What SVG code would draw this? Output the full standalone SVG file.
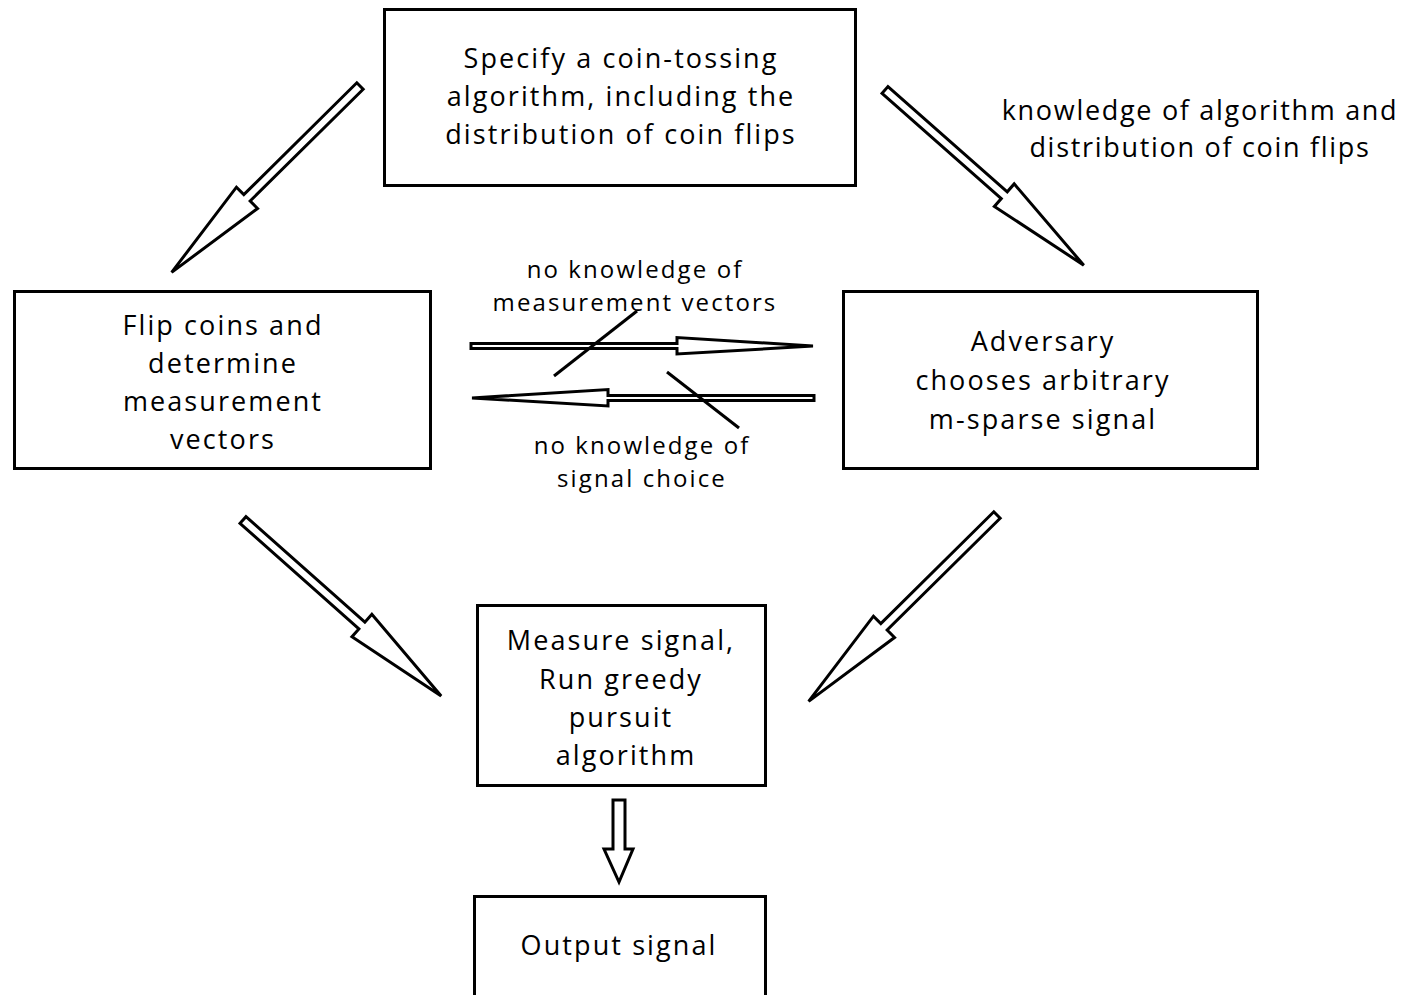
<svg xmlns="http://www.w3.org/2000/svg" width="1405" height="995" viewBox="0 0 1405 995">
<defs>
<style>
.box{fill:#fff;stroke:#000;stroke-width:3}
.t{font-family:"Open Sans",Lato,"Liberation Sans",sans-serif;font-size:27px;letter-spacing:2.1px;fill:#000;text-anchor:middle}
.s{font-family:"Open Sans",Lato,"Liberation Sans",sans-serif;font-size:24px;letter-spacing:2.1px;fill:#000;text-anchor:middle}
.k{font-family:"Open Sans",Lato,"Liberation Sans",sans-serif;font-size:27px;letter-spacing:1.7px;fill:#000;text-anchor:middle}
.ar{fill:#fff;stroke:#000;stroke-width:3;stroke-linejoin:miter}
.ln{stroke:#000;stroke-width:3;fill:none}
</style>
<path id="darrow" d="M0,-4.5 L159,-4.5 L159,-15 L265,0 L159,15 L159,4.5 L0,4.5 Z"/>
</defs>
<rect width="1405" height="995" fill="#fff"/>
<g id="connectors">
<use href="#darrow" class="ar" transform="translate(360,86) rotate(135.3)"/>
<use href="#darrow" class="ar" transform="translate(885,90) rotate(41.4)"/>
<use href="#darrow" class="ar" transform="translate(243,520) rotate(41.6)"/>
<use href="#darrow" class="ar" transform="translate(997,515) rotate(135.3)"/>
<path class="ar" stroke-width="2.5" d="M471,343.5 L677,343.5 L677,337.5 L813,346 L677,354 L677,348.5 L471,348.5 Z"/>
<path class="ar" stroke-width="2.5" d="M814,395.5 L608,395.5 L608,389.5 L472,398 L608,406 L608,400.5 L814,400.5 Z"/>
<line class="ln" x1="554" y1="376" x2="637" y2="311"/>
<line class="ln" x1="667" y1="372" x2="739" y2="428"/>
<path class="ar" d="M613,800 L625,800 L625,849 L633,849 L619,882 L604,849 L613,849 Z"/>
</g>
<g id="node-top">
<rect class="box" x="384.5" y="9.5" width="471" height="176"/>
<text class="t" x="621" y="68">Specify a coin-tossing</text>
<text class="t" x="621" y="106">algorithm, including the</text>
<text class="t" x="621" y="144">distribution of coin flips</text>
</g>
<g id="node-left">
<rect class="box" x="14.5" y="291.5" width="416" height="177"/>
<text class="t" x="223" y="335">Flip coins and</text>
<text class="t" x="223" y="373">determine</text>
<text class="t" x="223" y="411">measurement</text>
<text class="t" x="223" y="449">vectors</text>
</g>
<g id="node-right">
<rect class="box" x="843.5" y="291.5" width="414" height="177"/>
<text class="t" x="1043" y="351">Adversary</text>
<text class="t" x="1043" y="390">chooses arbitrary</text>
<text class="t" x="1043" y="429">m-sparse signal</text>
</g>
<g id="node-middle">
<rect class="box" x="477.5" y="605.5" width="288" height="180"/>
<text class="t" x="621" y="650">Measure signal,</text>
<text class="t" x="621" y="689">Run greedy</text>
<text class="t" x="621" y="727">pursuit</text>
<text class="t" x="626" y="765">algorithm</text>
</g>
<g id="node-output">
<rect class="box" x="474.5" y="896.5" width="291" height="110"/>
<text class="t" x="619" y="955">Output signal</text>
</g>
<g id="labels">
<text class="k" x="1200" y="120">knowledge of algorithm and</text>
<text class="k" x="1200" y="157">distribution of coin flips</text>
<text class="s" x="635" y="278">no knowledge of</text>
<text class="s" x="635" y="311">measurement vectors</text>
<text class="s" x="642" y="454">no knowledge of</text>
<text class="s" x="642" y="487">signal choice</text>
</g>
</svg>
